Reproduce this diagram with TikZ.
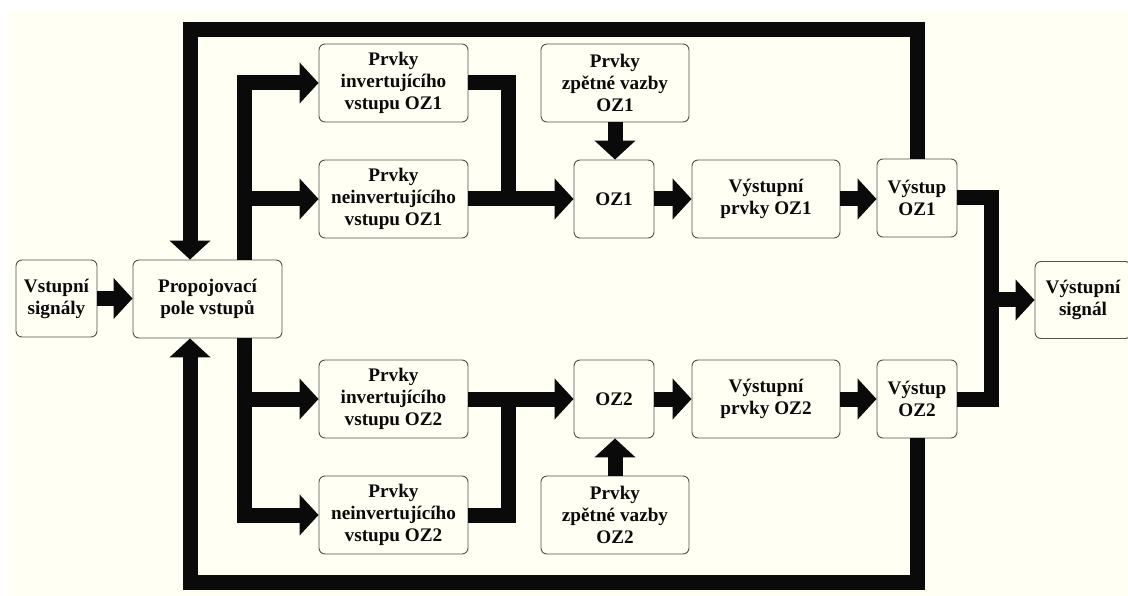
\documentclass[tikz,border=0pt]{standalone}
\usepackage{fontspec}
\setmainfont{Liberation Serif}
\usetikzlibrary{arrows.meta,calc}
\definecolor{cream}{RGB}{255,255,243}
\definecolor{ink}{RGB}{10,10,10}
\definecolor{edge}{RGB}{80,80,80}
\tikzset{
  blk/.style={draw=edge, line width=0.9pt, fill=cream, rounded corners=6pt,
    inner sep=0pt, align=center, font=\bfseries\fontsize{19.2}{22}\selectfont,
    text=ink, minimum height=78pt},
  wide/.style={blk, minimum width=149pt},
  narrow/.style={blk, minimum width=80pt},
  bar/.style={draw=ink, line width=15pt},
  arr/.style={bar, -{Triangle[width=40pt,length=19pt]}},
}
\begin{document}
\begin{tikzpicture}[x=1pt,y=-1pt]
\useasboundingbox (0,0) rectangle (1128,596);
\fill[white] (0,0) rectangle (1128,596);
\fill[cream] (7,11) rectangle (1128,596);

% nodes
\node[blk, minimum width=81pt, minimum height=77pt] (vs) at (56.5,298.5) {Vstupní\\signály};
\node[wide] (pp) at (207.5,299) {Propojovací\\pole vstupů};
\node[wide] (i1) at (393.5,83) {Prvky\\invertujícího\\vstupu OZ1};
\node[wide] (n1) at (393.5,199) {Prvky\\neinvertujícího\\vstupu OZ1};
\node[wide, minimum width=148pt] (z1) at (615,83) {Prvky\\zpětné vazby\\OZ1};
\node[narrow] (oz1) at (614,199) {OZ1};
\node[wide, minimum width=148pt] (vp1) at (766,199) {Výstupní\\prvky OZ1};
\node[narrow] (vy1) at (917,198) {Výstup\\OZ1};
\node[wide] (i2) at (393.5,399) {Prvky\\invertujícího\\vstupu OZ2};
\node[wide] (n2) at (393.5,515) {Prvky\\neinvertujícího\\vstupu OZ2};
\node[narrow] (oz2) at (614,399) {OZ2};
\node[wide, minimum width=148pt] (z2) at (615,515) {Prvky\\zpětné vazby\\OZ2};
\node[wide, minimum width=148pt] (vp2) at (766,399) {Výstupní\\prvky OZ2};
\node[narrow] (vy2) at (917,399) {Výstup\\OZ2};
\node[blk, minimum width=96pt, minimum height=77pt] (vsig) at (1083,300) {Výstupní\\signál};

% helper coordinates
\coordinate (tl) at (190,29.5);
\coordinate (bl) at (190,582);
\coordinate (bus) at (244,0);
\coordinate (mx) at (508,0);
\coordinate (rx) at (991,0);

% input
\draw[arr] (vs.east) -- (pp.west |- vs.east);

% feedback loops
\draw[arr] (vy1.north) |- (tl) -- (pp.north -| tl);
\draw[arr] (vy2.south) |- (bl) -- (pp.south -| bl);

% distribution bus
\draw[arr] (pp.north -| bus) |- (i1.west);
\draw[arr] (bus |- n1.west) -- (n1.west);
\draw[arr] (pp.south -| bus) |- (n2.west);
\draw[arr] (bus |- i2.west) -- (i2.west);

% merges into OZ
\draw[bar] (i1.east) -| (mx |- oz1.west);
\draw[arr] (n1.east) -- (oz1.west);
\draw[bar] (n2.east) -| (mx |- oz2.west);
\draw[arr] (i2.east) -- (oz2.west);

% feedback elements
\draw[arr] (z1.south) -- (z1.south |- oz1.north);
\draw[arr] (z2.north) -- (z2.north |- oz2.south);

% output chain
\draw[arr] (oz1.east) -- (vp1.west |- oz1.east);
\draw[arr] (vp1.east) -- (vy1.west |- vp1.east);
\draw[arr] (oz2.east) -- (vp2.west |- oz2.east);
\draw[arr] (vp2.east) -- (vy2.west |- vp2.east);

% output merge
\draw[bar] (vy1.east) -| (rx |- vsig.west);
\draw[bar] (vy2.east) -| (rx |- vsig.west);
\draw[arr] ($(rx |- vsig.west)+(-7.5,0)$) -- (vsig.west);
\end{tikzpicture}
\end{document}
